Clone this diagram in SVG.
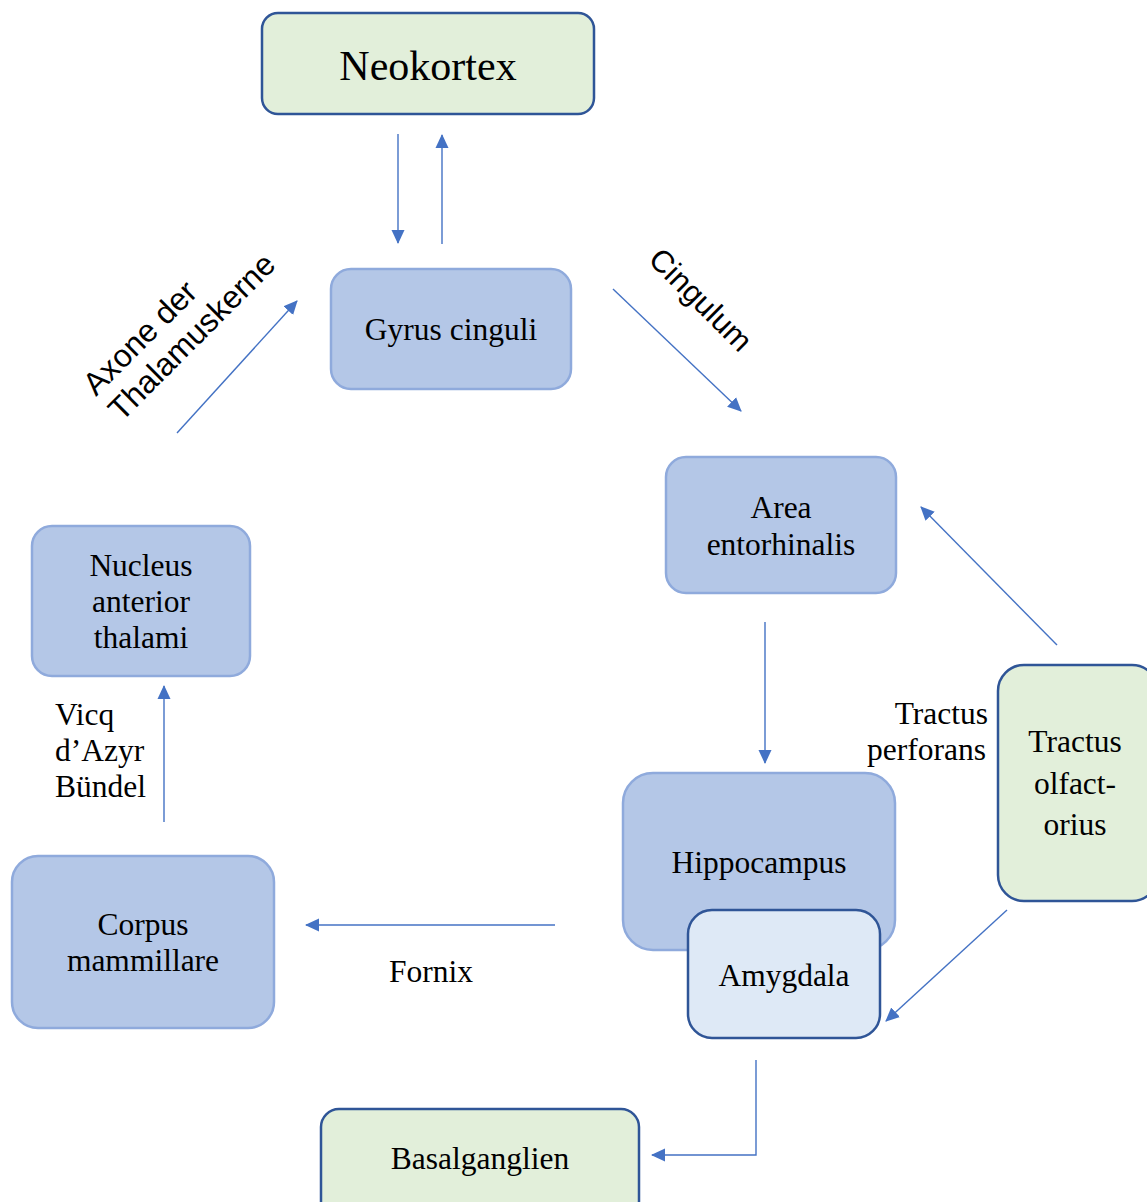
<svg xmlns="http://www.w3.org/2000/svg" width="1147" height="1202" viewBox="0 0 1147 1202">
<style>
.serif{font-family:"Liberation Serif","Times New Roman",serif;font-size:31.5px;fill:#000}
.sans{font-family:"Liberation Sans",Arial,sans-serif;font-size:31px;fill:#000}
.c{text-anchor:middle}
.blue{fill:#b4c7e7;stroke:#8faadc;stroke-width:2.5}
.green{fill:#e2efda;stroke:#2f5597;stroke-width:2.5}
.light{fill:#dee9f6;stroke:#2f5597;stroke-width:2.5}
.con{stroke:#4472c4;stroke-width:1.4;fill:none;marker-end:url(#ah)}
</style>
<defs>
<marker id="ah" viewBox="0 0 14 14" refX="13" refY="7" markerWidth="14" markerHeight="14" markerUnits="userSpaceOnUse" orient="auto">
<path d="M0,0.5 L14,7 L0,13.5 z" fill="#4472c4"/>
</marker>
</defs>
<rect width="1147" height="1202" fill="#fff"/>
<g id="connectors">
<line class="con" x1="398" y1="134" x2="398" y2="243"/>
<line class="con" x1="442" y1="244" x2="442" y2="135"/>
<line class="con" x1="177" y1="433" x2="297" y2="301"/>
<line class="con" x1="613" y1="289" x2="741" y2="411"/>
<line class="con" x1="1057" y1="645" x2="921" y2="507"/>
<line class="con" x1="765" y1="622" x2="765" y2="763"/>
<line class="con" x1="1007" y1="910" x2="886" y2="1021"/>
<line class="con" x1="555" y1="925" x2="306" y2="925"/>
<line class="con" x1="164" y1="822" x2="164" y2="686"/>
<polyline class="con" points="756,1060 756,1155 652,1155"/>
</g>
<g id="labels">
<text class="sans" style="font-size:32px" transform="translate(96,397) rotate(-45)"><tspan x="0" y="0">Axone der</tspan><tspan x="0" y="36">Thalamuskerne</tspan></text>
<text class="sans" transform="translate(647,261) rotate(45)">Cingulum</text>
<text class="serif" text-anchor="end"><tspan x="988" y="724">Tractus</tspan><tspan x="986" y="760">perforans</tspan></text>
<text class="serif"><tspan x="55" y="725">Vicq</tspan><tspan x="55" y="761">d’Azyr</tspan><tspan x="55" y="797">Bündel</tspan></text>
<text class="serif c" x="431" y="982">Fornix</text>
</g>
<g id="neokortex">
<rect class="green" x="262" y="13" width="332" height="101" rx="16"/>
<text class="serif c" x="428" y="80" style="font-size:42px">Neokortex</text>
</g>
<g id="gyrus-cinguli">
<rect class="blue" x="331" y="269" width="240" height="120" rx="20"/>
<text class="serif c" x="451" y="340">Gyrus cinguli</text>
</g>
<g id="area-entorhinalis">
<rect class="blue" x="666" y="457" width="230" height="136" rx="20"/>
<text class="serif c"><tspan x="781" y="518">Area</tspan><tspan x="781" y="555">entorhinalis</tspan></text>
</g>
<g id="nucleus-anterior-thalami">
<rect class="blue" x="32" y="526" width="218" height="150" rx="20"/>
<text class="serif c"><tspan x="141" y="576">Nucleus</tspan><tspan x="141" y="612">anterior</tspan><tspan x="141" y="648">thalami</tspan></text>
</g>
<g id="corpus-mammillare">
<rect class="blue" x="12" y="856" width="262" height="172" rx="26"/>
<text class="serif c"><tspan x="143" y="935">Corpus</tspan><tspan x="143" y="971">mammillare</tspan></text>
</g>
<g id="hippocampus">
<rect class="blue" x="623" y="773" width="272" height="177" rx="30"/>
<text class="serif c" x="759" y="873">Hippocampus</text>
</g>
<g id="amygdala">
<rect class="light" x="688" y="910" width="192" height="128" rx="24"/>
<text class="serif c" x="784" y="986">Amygdala</text>
</g>
<g id="tractus-olfactorius">
<rect class="green" x="998" y="665" width="160" height="236" rx="26"/>
<text class="serif c"><tspan x="1075" y="752">Tractus</tspan><tspan x="1075" y="794">olfact-</tspan><tspan x="1075" y="835">orius</tspan></text>
</g>
<g id="basalganglien">
<rect class="green" x="321" y="1109" width="318" height="110" rx="18"/>
<text class="serif c" x="480" y="1169">Basalganglien</text>
</g>
</svg>
